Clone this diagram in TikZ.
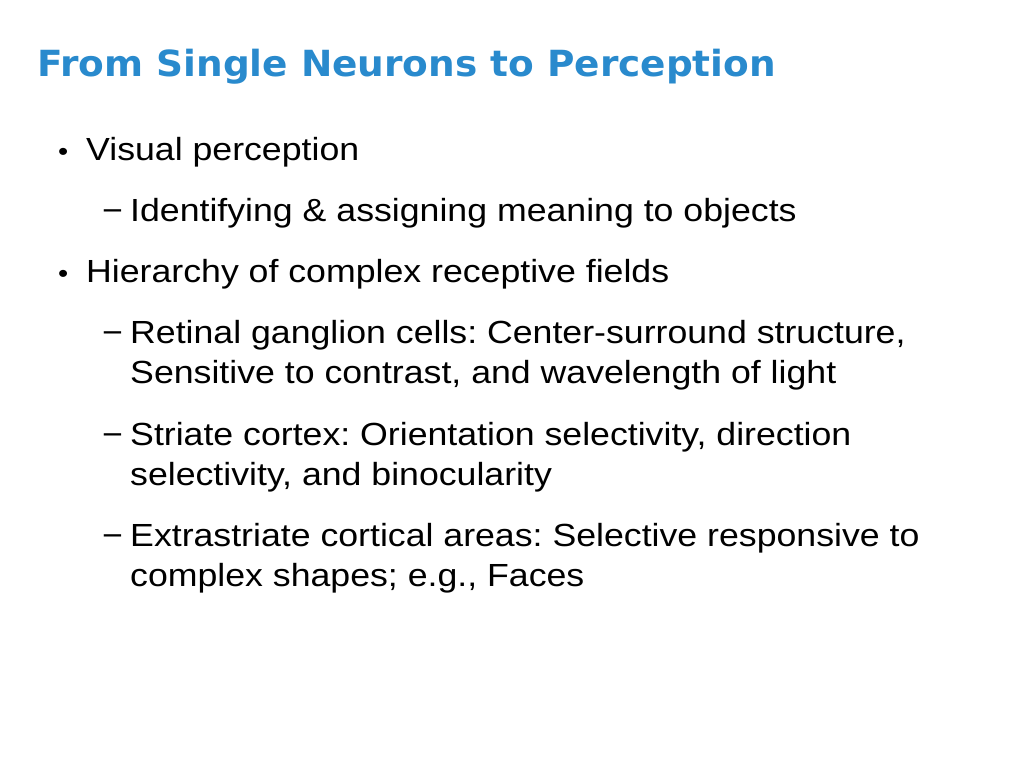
\documentclass[tikz,border=0pt]{standalone}
\usepackage{fontspec}
\setmainfont{Liberation Sans}[FakeStretch=1.115]
\newfontfamily\titlefont{DejaVu Sans}[FakeStretch=1.04]
\definecolor{tblue}{RGB}{41,138,205}
\frenchspacing
\begin{document}
\begin{tikzpicture}[x=1pt,y=-1pt,
  txt/.style={anchor=base west,inner sep=0pt,font=\fontsize{32}{36}\selectfont},
  ttl/.style={anchor=base west,inner sep=0pt,font=\titlefont\bfseries\fontsize{36}{40}\selectfont,text=tblue}]
\useasboundingbox (0,0) rectangle (1024,768);
\fill[white] (0,0) rectangle (1024,768);
\node[ttl] (t) at (37,76) {From Single Neurons to Perception};
\node[txt,font=\fontsize{26}{30}\selectfont] (b1) at (58,160) {\textbullet};
\node[txt] (l1) at (86,160) {Visual perception};
\node[txt] (d1) at (102,221) {−};
\node[txt] (l2) at (130,221) {Identifying \& assigning meaning to objects};
\node[txt,font=\fontsize{26}{30}\selectfont] (b2) at (58,282) {\textbullet};
\node[txt] (l3) at (86,282) {Hierarchy of complex receptive fields};
\node[txt] (d2) at (102,343) {−};
\node[txt] (l4) at (130,343) {Retinal ganglion cells: Center-surround structure,};
\node[txt] (l4b) at (130,383) {Sensitive to contrast, and wavelength of light};
\node[txt] (d3) at (102,445) {−};
\node[txt] (l5) at (130,445) {Striate cortex: Orientation selectivity, direction};
\node[txt] (l5b) at (130,485) {selectivity, and binocularity};
\node[txt] (d4) at (102,546) {−};
\node[txt] (l6) at (130,546) {Extrastriate cortical areas: Selective responsive to};
\node[txt] (l6b) at (130,586) {complex shapes; e.g., Faces};
\end{tikzpicture}
\end{document}
